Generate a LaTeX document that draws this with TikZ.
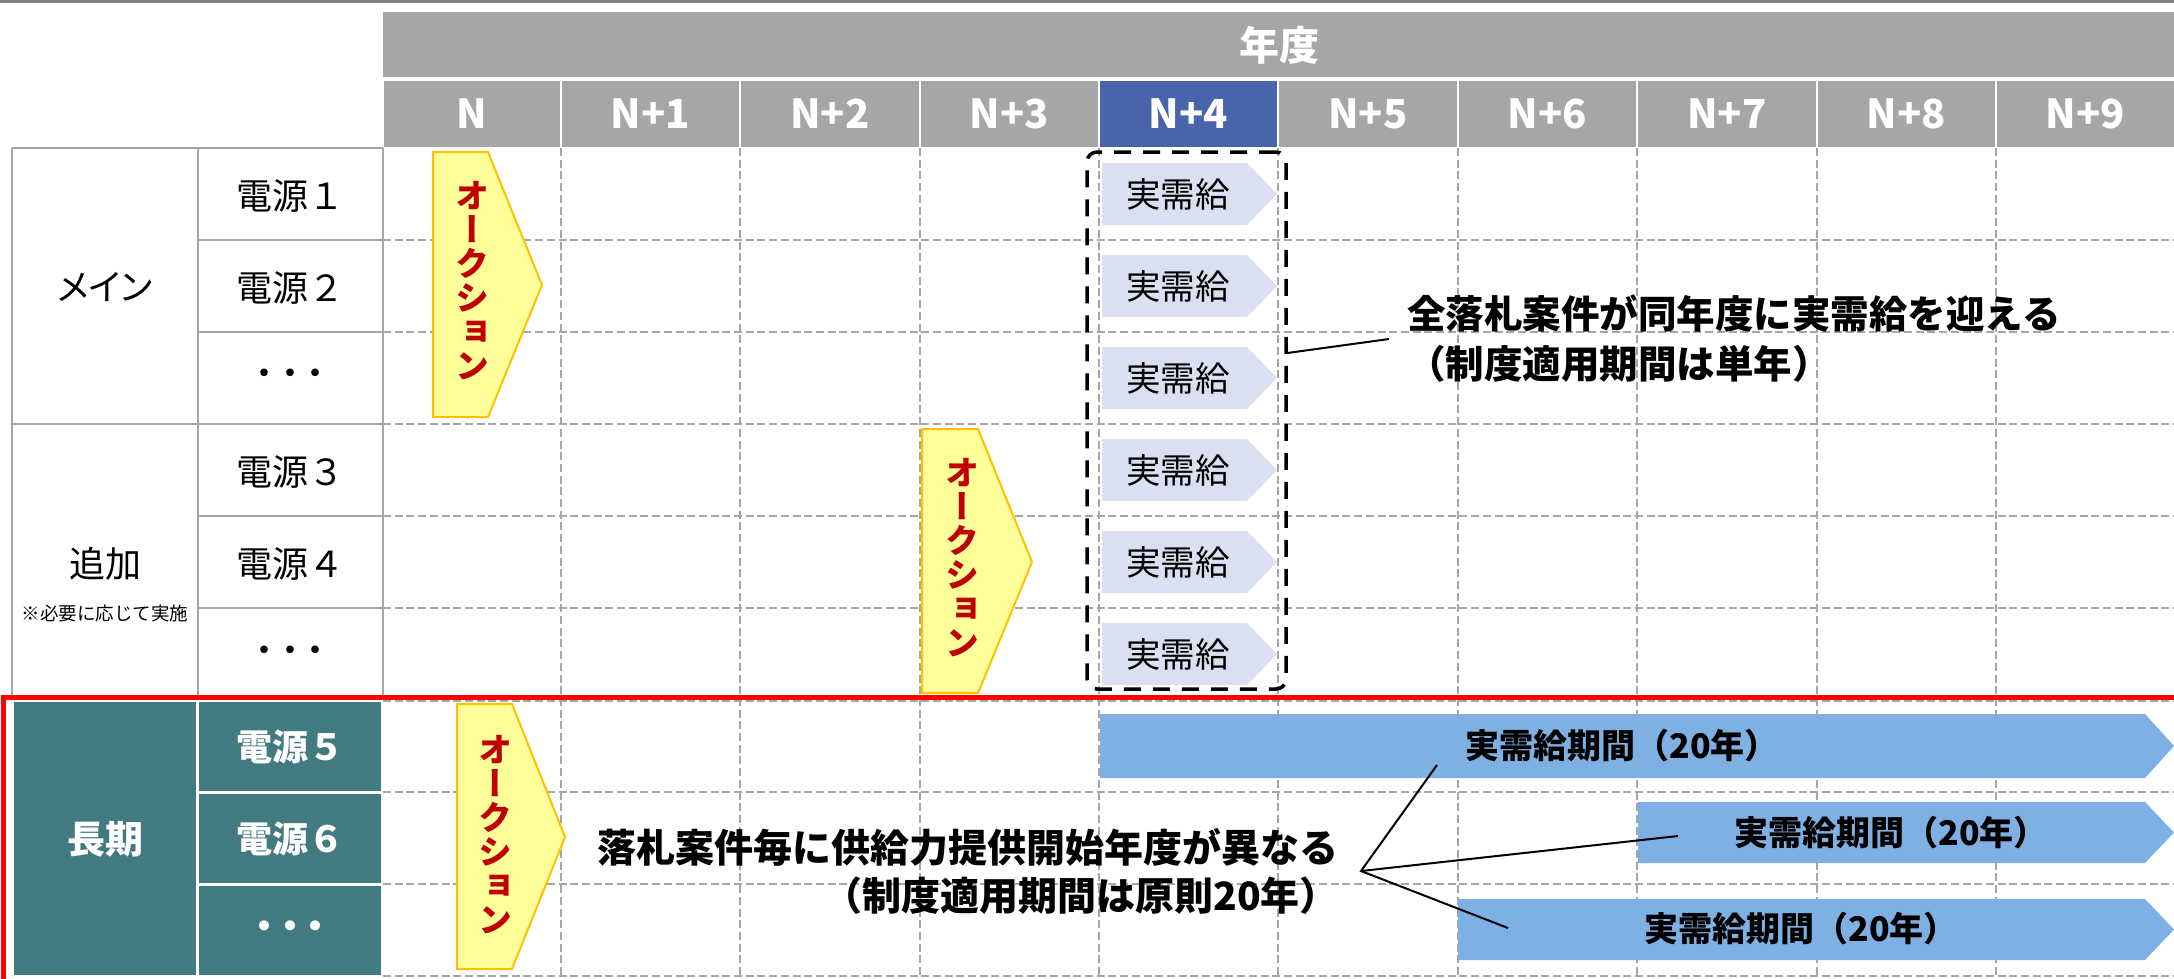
\documentclass[tikz,border=0pt]{standalone}
\usepackage{fontspec}
\setmainfont{Noto Sans CJK JP}
\newfontfamily\jpv[RawFeature=+vert]{Noto Sans CJK JP}
\newfontfamily\jpp[RawFeature=+palt]{Noto Sans CJK JP}
\usetikzlibrary{calc}
\definecolor{hdrgray}{RGB}{166,166,166}
\definecolor{topgray}{RGB}{128,128,128}
\definecolor{hdrblue}{RGB}{72,101,172}
\definecolor{longteal}{RGB}{66,122,130}
\definecolor{auyel}{RGB}{255,255,153}
\definecolor{auorange}{RGB}{255,192,0}
\definecolor{audred}{RGB}{192,0,0}
\definecolor{jlav}{RGB}{218,224,241}
\definecolor{barblue}{RGB}{127,176,227}
\newcommand\tdots{・\kern-0.3em・\kern-0.3em・}
\lineskiplimit=-100pt
\tikzset{
  gridline/.style={draw=hdrgray, line width=2.7pt, dash pattern=on 8pt off 3.7pt},
  tblline/.style={draw=hdrgray, line width=2.5pt},
  yrlabel/.style={text=white, inner sep=0pt, font=\bfseries\fontsize{40}{44}\selectfont},
  lefttext/.style={text=black, inner sep=0pt, font=\fontsize{36}{40}\selectfont},
  smalltext/.style={text=black, inner sep=0pt, font=\fontsize{18.5}{20}\selectfont},
  tealtext/.style={text=white, inner sep=0pt, font=\bfseries\fontsize{36}{40}\selectfont},
  auction/.style={fill=auyel, draw=auorange, line width=2pt},
  auctext/.style={text=audred, inner sep=0pt, align=center, font=\jpv\bfseries\fontsize{34}{34}\selectfont},
  jtext/.style={text=black, inner sep=0pt, font=\fontsize{34.5}{36}\selectfont},
  bartext/.style={text=black, inner sep=0pt, font=\bfseries\fontsize{34}{36}\selectfont},
  callout/.style={draw=black, line width=2pt},
  dbox/.style={draw=black, line width=3.5pt, dash pattern=on 17pt off 12pt, rounded corners=10pt, inner sep=0pt}
}
\begin{document}
\begin{tikzpicture}[x=1pt,y=-1pt]
\useasboundingbox (0,0) rectangle (2174,978);
% top rule
\draw[topgray, line width=2.7pt] (0,1.35) -- (2174,1.35);
% header band
\fill[hdrgray] (383,12) rectangle (2174,77);
\node[yrlabel] (nendo) at (1279,45) {年度};
\foreach \a/\b/\t/\c [count=\i] in {383/561/N/hdrgray, 561/740/N+1/hdrgray, 740/920/N+2/hdrgray, 920/1099/N+3/hdrgray, 1099/1278/N+4/hdrblue, 1278/1458/N+5/hdrgray, 1458/1637/N+6/hdrgray, 1637/1817/N+7/hdrgray, 1817/1996/N+8/hdrgray, 1996/2175/N+9/hdrgray}{
  \fill[\c] ({\a+1},81) rectangle ({\b-1},147);
  \node[yrlabel] (yr\i) at ({(\a+\b)/2},114) {\t};
}
% dashed grid
\foreach \x in {561,740,920,1099,1278,1458,1637,1817,1996}
  \draw[gridline] (\x,148) -- (\x,978);
\foreach \y in {240,332,424,516,608,700.7,792,884,976}
  \draw[gridline] (383,\y) -- (2174,\y);
% left table
\draw[tblline] (12,148) -- (383,148);
\draw[tblline] (12,148) -- (12,698);
\draw[tblline] (198,148) -- (198,698);
\draw[tblline] (383,148) -- (383,698);
\foreach \y in {240,332,516,608}
  \draw[tblline] (198,\y) -- (383,\y);
\draw[tblline] (12,424) -- (383,424);
% red frame
\draw[red, line width=5pt] (3.5,985) -- (3.5,697.5) -- (2180,697.5);
% long-term teal cells
\fill[longteal] (14,702) rectangle (196,975);
\fill[longteal] (199,702) rectangle (381,790.5);
\fill[longteal] (199,793.5) rectangle (381,882.5);
\fill[longteal] (199,885.5) rectangle (381,975);
% left labels
\node[lefttext, font=\jpp\fontsize{36}{40}\selectfont] (main) at (105,287) {メイン};
\node[lefttext] (s1) at (290,196) {電源１};
\node[lefttext] (s2) at (290,288) {電源２};
\node[lefttext] (sd1) at (290,378) {\tdots};
\node[lefttext] (add) at (105,564) {追加};
\node[smalltext] (addnote) at (105,613) {※必要に応じて実施};
\node[lefttext] (s3) at (290,472) {電源３};
\node[lefttext] (s4) at (290,564) {電源４};
\node[lefttext] (sd2) at (290,655) {\tdots};
\node[tealtext, font=\bfseries\fontsize{38}{40}\selectfont] (long) at (105,839) {長期};
\node[tealtext] (s5) at (290,747) {電源５};
\node[tealtext] (s6) at (290,839) {電源６};
\node[tealtext] (sd3) at (290,930) {\tdots};
% auctions
\draw[auction] (433,152) -- (488,152) -- (542,285) -- (488,417) -- (433,417) -- cycle;
\node[auctext] (auc1) at (472,281) {オ\\ー\\ク\\シ\\ョ\\ン};
\draw[auction] (922,429) -- (978,429) -- (1032,562) -- (978,693) -- (922,693) -- cycle;
\node[auctext] (auc2) at (962,558) {オ\\ー\\ク\\シ\\ョ\\ン};
\draw[auction] (457,704) -- (512,704) -- (565,837) -- (512,969) -- (457,969) -- cycle;
\node[auctext] (auc3) at (495,835) {オ\\ー\\ク\\シ\\ョ\\ン};
% actual supply chevrons
\foreach \y [count=\i] in {194,286,378,470,562,654}{
  \fill[jlav] (1102,\y-31) -- (1247,\y-31) -- (1277,\y) -- (1247,\y+31) -- (1102,\y+31) -- cycle;
  \node[jtext] (jd\i) at (1178,\y) {実需給};
}
% dashed box around N+4
\node[dbox, minimum width=199pt, minimum height=537pt] (box) at (1186.5,420.5) {};
% note 1
\node[anchor=west, align=left, inner xsep=18pt, inner ysep=0pt, font=\bfseries\fontsize{38.5}{50}\selectfont] (note1) at (1389,339) {全落札案件が同年度に実需給を迎える\\（制度適用期間は単年）};
\coordinate (boxpt) at ($(box.north east)!0.375!(box.south east)$);
\draw[callout] (boxpt) -- (note1.west);
% long-term bars
\fill[barblue] (1100,714) -- (2145,714) -- (2174,746) -- (2145,778) -- (1100,778) -- cycle;
\node[bartext] (bar1) at (1622,746) {実需給期間（20年）};
\fill[barblue] (1638,802) -- (2145,802) -- (2174,832.5) -- (2145,863) -- (1638,863) -- cycle;
\node[bartext] (bar2) at (1891,833) {実需給期間（20年）};
\fill[barblue] (1458,899) -- (2145,899) -- (2174,929.5) -- (2145,960) -- (1458,960) -- cycle;
\node[bartext] (bar3) at (1801,929) {実需給期間（20年）};
% note 2
\node[anchor=east, align=right, inner xsep=22pt, inner ysep=0pt, font=\bfseries\fontsize{39}{48}\selectfont] (note2) at (1361,871) {落札案件毎に供給力提供開始年度が異なる\\（制度適用期間は原則20年）};
\coordinate (p1) at (1437,765);
\coordinate (p2) at (1678,836);
\coordinate (p3) at (1508,928);
\draw[callout] (p1) -- (note2.east) -- (p3);
\draw[callout] (note2.east) -- (p2);
\end{tikzpicture}
\end{document}
